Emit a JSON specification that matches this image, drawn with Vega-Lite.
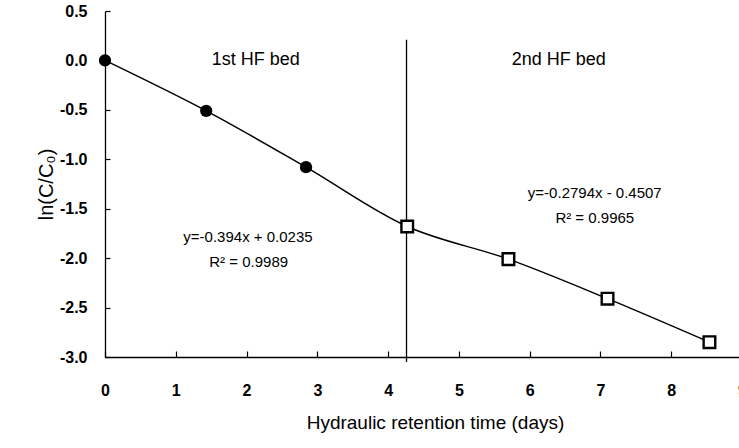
{
  "$schema": "https://vega.github.io/schema/vega-lite/v6.json",
  "autosize": {"type": "none"},
  "padding": {"left": 105, "top": 11, "right": 0, "bottom": 91},
  "width": 637,
  "height": 346,
  "background": "white",
  "config": {
    "view": {"stroke": null},
    "font": "Liberation Sans"
  },
  "datasets": {
    "pts": [
      {"hrt": 0, "lnc": 0, "bed": "1st"},
      {"hrt": 1.43, "lnc": -0.51, "bed": "1st"},
      {"hrt": 2.84, "lnc": -1.08, "bed": "1st"},
      {"hrt": 4.27, "lnc": -1.68, "bed": "2nd"},
      {"hrt": 5.7, "lnc": -2.01, "bed": "2nd"},
      {"hrt": 7.1, "lnc": -2.41, "bed": "2nd"},
      {"hrt": 8.54, "lnc": -2.85, "bed": "2nd"}
    ],
    "beds": [
      {"x": 2.13, "y": 0.0, "label": "1st HF bed"},
      {"x": 6.41, "y": 0.0, "label": "2nd HF bed"}
    ],
    "eqs": [
      {"x": 2.02, "y": -1.785, "label": "y=-0.394x + 0.0235"},
      {"x": 2.03, "y": -2.04, "label": "R² = 0.9989"},
      {"x": 6.92, "y": -1.34, "label": "y=-0.2794x - 0.4507"},
      {"x": 6.92, "y": -1.59, "label": "R² = 0.9965"}
    ],
    "divider": [
      {"x": 4.26, "top": 0.21, "bottom": -3.05}
    ]
  },
  "layer": [
    {
      "data": {"name": "divider"},
      "mark": {"type": "rule", "color": "black", "strokeWidth": 1.3},
      "encoding": {
        "x": {"field": "x", "type": "quantitative"},
        "y": {"field": "top", "type": "quantitative"},
        "y2": {"field": "bottom"}
      }
    },
    {
      "data": {"name": "pts"},
      "mark": {"type": "line", "color": "black", "strokeWidth": 1.5, "interpolate": "catmull-rom"},
      "encoding": {
        "x": {
          "field": "hrt", "type": "quantitative",
          "scale": {"domain": [0, 9], "nice": false},
          "axis": {
            "title": "Hydraulic retention time (days)",
            "values": [0, 1, 2, 3, 4, 5, 6, 7, 8, 9],
            "format": "d",
            "grid": false,
            "domainColor": "black", "domainWidth": 1.3,
            "tickColor": "black", "tickSize": -6, "tickWidth": 1.2,
            "labelFont": "Liberation Sans", "labelFontWeight": "bold", "labelFontSize": 16,
            "labelColor": "black", "labelPadding": 31, "labelFlush": false, "labelOverlap": false,
            "titleFont": "Liberation Sans", "titleFontWeight": "normal", "titleFontSize": 19,
            "titleColor": "black", "titleX": 330, "titleY": 71, "titleBaseline": "alphabetic"
          }
        },
        "y": {
          "field": "lnc", "type": "quantitative",
          "scale": {"domain": [-3, 0.5], "nice": false},
          "axis": {
            "title": "ln(C/C₀)",
            "values": [-3, -2.5, -2, -1.5, -1, -0.5, 0, 0.5],
            "format": ".1f",
            "labelExpr": "replace(datum.label, '−', '-')",
            "grid": false,
            "domainColor": "black", "domainWidth": 1.3,
            "tickColor": "black", "tickSize": -5, "tickWidth": 1.2,
            "labelFont": "Liberation Sans", "labelFontWeight": "bold", "labelFontSize": 16,
            "labelColor": "black", "labelPadding": 23, "labelFlush": false, "labelOverlap": false,
            "titleFont": "Liberation Sans", "titleFontWeight": "normal", "titleFontSize": 20,
            "titleColor": "black", "titleX": -53, "titleY": 173, "titleAngle": -90,
            "titleBaseline": "alphabetic", "titleAlign": "center"
          }
        },
        "order": {"field": "hrt", "type": "quantitative"}
      }
    },
    {
      "data": {"name": "pts"},
      "transform": [{"filter": "datum.bed === '1st'"}],
      "mark": {"type": "point", "shape": "circle", "filled": true, "color": "black", "size": 150, "opacity": 1},
      "encoding": {
        "x": {"field": "hrt", "type": "quantitative"},
        "y": {"field": "lnc", "type": "quantitative"}
      }
    },
    {
      "data": {"name": "pts"},
      "transform": [{"filter": "datum.bed === '2nd'"}],
      "mark": {"type": "point", "shape": "square", "filled": false, "fill": "white", "fillOpacity": 1, "stroke": "black", "strokeWidth": 2.4, "size": 135, "opacity": 1},
      "encoding": {
        "x": {"field": "hrt", "type": "quantitative"},
        "y": {"field": "lnc", "type": "quantitative"}
      }
    },
    {
      "data": {"name": "beds"},
      "mark": {"type": "text", "font": "Liberation Sans", "fontSize": 18, "color": "black", "align": "center", "baseline": "middle"},
      "encoding": {
        "x": {"field": "x", "type": "quantitative"},
        "y": {"field": "y", "type": "quantitative"},
        "text": {"field": "label"}
      }
    },
    {
      "data": {"name": "eqs"},
      "mark": {"type": "text", "font": "Liberation Sans", "fontSize": 15, "color": "black", "align": "center", "baseline": "middle"},
      "encoding": {
        "x": {"field": "x", "type": "quantitative"},
        "y": {"field": "y", "type": "quantitative"},
        "text": {"field": "label"}
      }
    }
  ]
}
